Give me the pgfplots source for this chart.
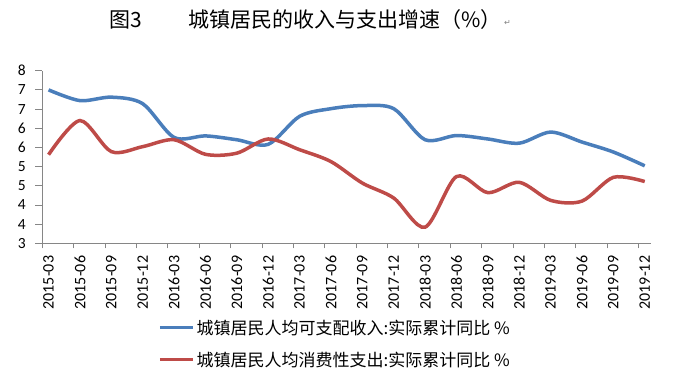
\documentclass[border=0pt]{standalone}
\usepackage{fontspec}
\setmainfont{Carlito}
\newfontfamily\cjk{Noto Sans CJK SC}
\newfontfamily\dejavu{DejaVu Sans}
\usepackage{pgfplots}
\pgfplotsset{compat=1.18}
\definecolor{cblue}{HTML}{4A7EBB}
\definecolor{cred}{HTML}{BE4B48}
\definecolor{axgray}{HTML}{868686}

\pgfplotstableread{
k income spend
0  7.00 5.31
1  6.72 6.20
2  6.81 5.39
3  6.64 5.52
4  5.76 5.70
5  5.80 5.32
6  5.70 5.35
7  5.58 5.72
8  6.31 5.44
9  6.51 5.13
10 6.59 4.57
11 6.51 4.18
12 5.70 3.42
13 5.81 4.74
14 5.72 4.32
15 5.61 4.59
16 5.90 4.12
17 5.64 4.10
18 5.38 4.72
19 5.02 4.61
}\datatable

\begin{document}
\begin{tikzpicture}[x=1pt,y=1pt]
\useasboundingbox (0,0) rectangle (676,390);
\node[anchor=west,inner sep=0] at (109,370) {\cjk\fontsize{21}{24}\selectfont 图3};
\node[anchor=west,inner sep=0] at (188,370) {\cjk\fontsize{21}{24}\selectfont 城镇居民的收入与支出增速（\%）};
\node[anchor=west,inner sep=0,text=gray] at (504,367) {\dejavu\fontsize{8}{9}\selectfont ↵};
\begin{axis}[
  at={(42.3pt,146.7pt)}, anchor=south west, scale only axis,
  width=608.7pt, height=172.6pt,
  xmin=-0.2, xmax=19.2, ymin=3, ymax=7.5,
  axis lines*=left,
  axis line style={axgray, line width=0.8pt},
  tick align=outside,
  xtick={0,...,19},
  xticklabels={2015-03,2015-06,2015-09,2015-12,2016-03,2016-06,2016-09,2016-12,2017-03,2017-06,2017-09,2017-12,2018-03,2018-06,2018-09,2018-12,2019-03,2019-06,2019-09,2019-12},
  x tick label style={rotate=90, anchor=east, font=\fontsize{16}{17}\selectfont},
  xticklabel shift=2pt,
  xtick style={draw=none},
  extra x ticks={-0.2,0.8,1.8,2.8,3.8,4.8,5.8,6.8,7.8,8.8,9.8,10.8,11.8,12.8,13.8,14.8,15.8,16.8,17.8,18.8},
  extra x tick labels={},
  extra x tick style={xtick style={draw=axgray, line width=0.8pt}, major tick length=5pt},
  ytick={3,3.5,...,7.5},
  yticklabels={3,4,4,5,5,6,6,7,7,8},
  y tick label style={font=\fontsize{15.5}{16}\selectfont},
  yticklabel shift=6pt,
  ytick style={draw=axgray, line width=0.8pt},
  major tick length=7pt,
  legend style={at={(0.19,-0.43)}, anchor=north west, draw=none, fill=none,
    font=\cjk\fontsize{17}{20}\selectfont, row sep=12pt, inner sep=0pt,
    /tikz/every even column/.style={column sep=3pt}},
  legend cell align=left,
  legend image code/.code={\draw[#1] (0pt,0pt) -- (33pt,0pt);},
]
\addplot[cblue, line width=3.5pt, smooth, tension=0.5] table[x=k, y=income]{\datatable};
\addlegendentry{城镇居民人均可支配收入:实际累计同比 \%}
\addplot[cred, line width=3.5pt, smooth, tension=0.5] table[x=k, y=spend]{\datatable};
\addlegendentry{城镇居民人均消费性支出:实际累计同比 \%}
\end{axis}
\end{tikzpicture}
\end{document}
